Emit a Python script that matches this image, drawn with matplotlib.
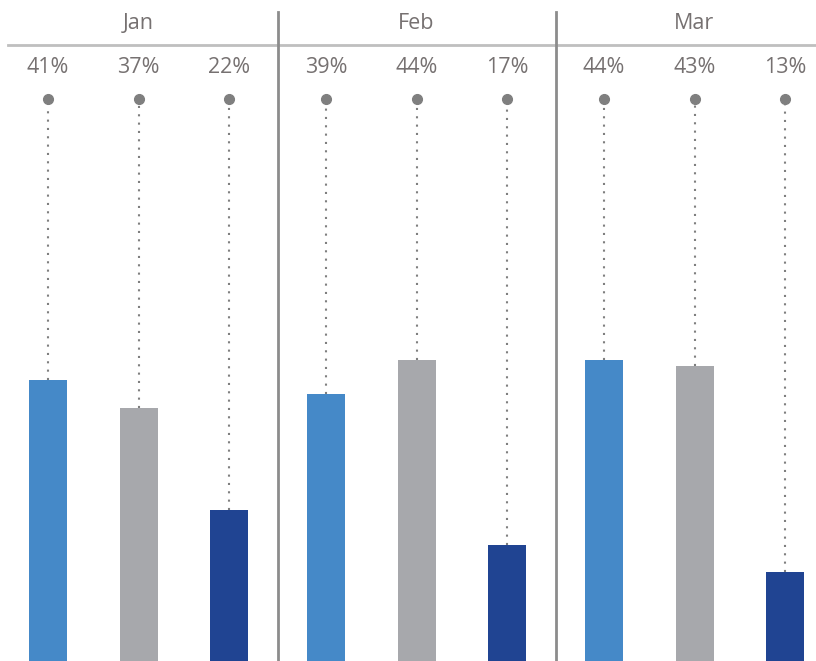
import matplotlib
matplotlib.use("Agg")
import matplotlib.pyplot as plt

months = ["Jan", "Feb", "Mar"]
series_colors = ["#4589C8", "#A7A8AC", "#204492"]
values = [
    [41, 37, 22],
    [39, 44, 17],
    [44, 43, 13],
]

plt.rcParams['font.family'] = ['Open Sans', 'DejaVu Sans']

fig = plt.figure(figsize=(8.16, 6.61), dpi=100)
ax = fig.add_axes([0, 0, 1, 1])
ax.set_xlim(0, 816)
ax.set_ylim(0, 96.5)
ax.axis('off')

x0 = 48
step = 90.5
gap = 278
bar_w = 38
dot_y = 82
label_y = 86.6
text_color = "#767171"

for g, (m, vals) in enumerate(zip(months, values)):
    xs = [x0 + g * gap + j * step for j in range(len(vals))]
    for x, v, c in zip(xs, vals, series_colors):
        ax.bar(x, v, width=bar_w, color=c, zorder=2)
        ax.plot([x, x], [v, dot_y], linestyle=(0, (1, 3)), color="#7F7F7F", lw=1.5, zorder=1)
        ax.plot(x, dot_y, 'o', color="#7F7F7F", ms=7, zorder=3)
        ax.text(x, label_y, f"{v}%", ha='center', va='center', fontsize=15.5, color=text_color)
    ax.text(xs[1], 93.0, m, ha='center', va='center', fontsize=15.5, color=text_color)

# header line and separators
ax.plot([8, 816], [89.9, 89.9], color="#BFBFBF", lw=2, zorder=1)
for g in range(1, len(months)):
    xsep = (x0 + (g - 1) * gap + 2 * step + x0 + g * gap) / 2
    ax.plot([xsep, xsep], [0, 94.7], color="#8C8C8C", lw=2, zorder=1)

fig.savefig("out.png", dpi=100)
